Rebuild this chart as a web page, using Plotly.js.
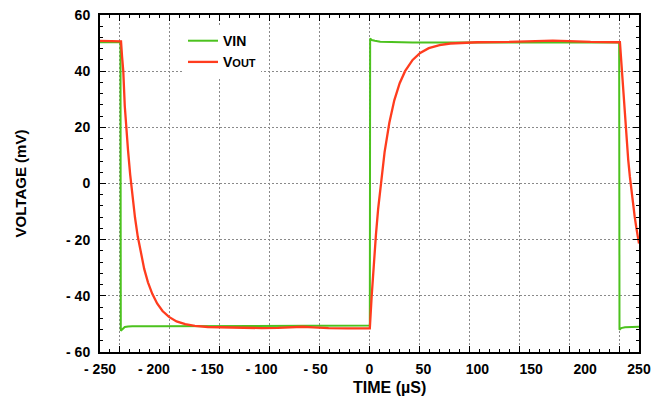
<!DOCTYPE html>
<html>
<head>
<meta charset="utf-8">
<script src="https://cdn.plot.ly/plotly-3.0.1.min.js"></script>
<style>html,body{margin:0;padding:0;background:#fff;}#chart{width:651px;height:405px;}</style>
</head>
<body>
<div id="chart"></div>
<script>
// ---- data ----
const xTickValues = [-250, -200, -150, -100, -50, 0, 50, 100, 150, 200, 250];
const xTickLabels = ["- 250", "- 200", "- 150", "- 100", "- 50", "0", "50", "100", "150", "200", "250"];
const yTickValues = [60, 40, 20, 0, -20, -40, -60];
const yTickLabels = ["60", "40", "20", "0", "- 20", "- 40", "- 60"];

const vinTime = [-250, -231, -230.7, -229, -227, -224, -220, -200, -150, -100, -50, 0.3,
  0.6, 2, 5, 10, 20, 40, 100, 150, 200, 231.6,
  231.9, 233.5, 237, 243, 250];
const vinVolt = [50.3, 50.3, -52.4, -51.8, -51.1, -50.9, -50.8, -50.8, -50.7, -50.6, -50.6, -50.6,
  51.6, 51.1, 50.8, 50.5, 50.4, 50.2, 50.2, 50.2, 50.2, 50.2,
  -52.1, -51.5, -51.2, -51.1, -51.0];

const voutTime = [-250, -231.2, -230.5, -229.5, -228.4, -227, -225.9, -224, -222, -220, -217.5,
  -215, -212, -209, -205.5, -201.5, -197, -192, -186, -179, -171, -162, -150, -135,
  -120, -100, -85, -72, -62, -52, -38, -20,
  0.3, 2.0, 4, 6, 8, 10.7, 14, 18.4, 23, 28, 33, 40, 47, 55, 65, 75, 85, 100,
  130, 155, 170, 185, 205,
  232.3, 233.2, 234.2, 235.5, 237, 238.5, 240, 241.5, 243, 244.5, 246, 247.5, 249, 250];
const voutVolt = [50.8, 50.8, 50.6, 45, 40, 27.5, 20, 11.8, 3.2, -4.3, -12.2,
  -18.8, -25.2, -30.4, -35.2, -39.3, -42.7, -45.4, -47.5, -49.1, -50.1, -50.7, -51.1, -51.3,
  -51.4, -51.5, -51.4, -51.2, -51.0, -51.2, -51.5, -51.6,
  -51.6, -40.2, -28.3, -18.1, -9.1, 1.1, 11.2, 21.6, 29.6, 35.7, 40.0, 44.0, 46.5, 48.2, 49.3, 49.85, 50.1, 50.3,
  50.4, 50.6, 50.9, 50.7, 50.4,
  50.3, 45.5, 40, 30.2, 22.1, 14.9, 8.4, 2.5, -2.8, -7.6, -11.8, -15.7, -19.2, -21.4];

// ---- chart ----
const FONT = "Liberation Sans, Arial, sans-serif";
const traces = [
  {x: vinTime, y: vinVolt, name: "VIN", type: "scatter", mode: "lines",
   xaxis: "x", yaxis: "y",
   line: {color: "#4cc21e", width: 2}},
  {x: voutTime, y: voutVolt, name: 'V<span style="font-size:11px">OUT</span>', type: "scatter", mode: "lines",
   xaxis: "x2", yaxis: "y",
   line: {color: "#ff3c1e", width: 2.3}}
];

const layout = {
  width: 651, height: 405,
  margin: {l: 100, r: 12, t: 15, b: 53, pad: 0},
  paper_bgcolor: "#ffffff", plot_bgcolor: "#ffffff",
  showlegend: true,
  font: {family: FONT, color: "#000"},
  xaxis: {
    range: [-250, 250], tickmode: "array", tickvals: xTickValues, ticktext: xTickLabels,
    showgrid: false, zeroline: false, ticks: "", showline: false,
    ticklabelstandoff: 7,
    tickfont: {family: FONT, size: 14, weight: "bold", color: "#000"}
  },
  xaxis2: {
    overlaying: "x", anchor: "y", side: "bottom",
    range: [-250, 250], tick0: -232, dtick: 46.4,
    showticklabels: false, zeroline: false,
    showgrid: true, gridcolor: "#8a8a8a", gridwidth: 1, griddash: "2px,2px",
    ticks: "inside", ticklen: 6, tickwidth: 1, tickcolor: "#000",
    minor: {tick0: -232, dtick: 9.28, ticks: "inside", ticklen: 3, tickwidth: 1, tickcolor: "#000", showgrid: false},
    showline: true, linecolor: "#000", linewidth: 2, mirror: "ticks"
  },
  yaxis: {
    range: [-60, 60], tickmode: "array", tickvals: yTickValues, ticktext: yTickLabels,
    zeroline: false,
    showgrid: true, gridcolor: "#8a8a8a", gridwidth: 1, griddash: "2px,2px",
    ticks: "inside", ticklen: 6, tickwidth: 1, tickcolor: "#000",
    minor: {dtick: 4, ticks: "inside", ticklen: 3, tickwidth: 1, tickcolor: "#000", showgrid: false},
    showline: true, linecolor: "#000", linewidth: 2, mirror: "ticks",
    ticklabelstandoff: 5,
    tickfont: {family: FONT, size: 14, weight: "bold", color: "#000"},
    title: {text: "VOLTAGE (mV)", standoff: 36, font: {family: FONT, size: 15, weight: "bold", color: "#000"}}
  },
  legend: {
    x: 0.154, y: 0.970, xanchor: "left", yanchor: "top",
    bgcolor: "#ffffff", borderwidth: 0,
    font: {family: FONT, size: 14, weight: "bold", color: "#000"},
    traceorder: "normal"
  },
  annotations: [
    {text: "TIME (µS)", xref: "paper", yref: "paper", x: 0.538, y: -0.106,
     xanchor: "center", yanchor: "middle", showarrow: false,
     font: {family: FONT, size: 16, weight: "bold", color: "#000"}}
  ]
};

Plotly.newPlot("chart", traces, layout, {displayModeBar: false, staticPlot: true});
</script>
</body>
</html>
